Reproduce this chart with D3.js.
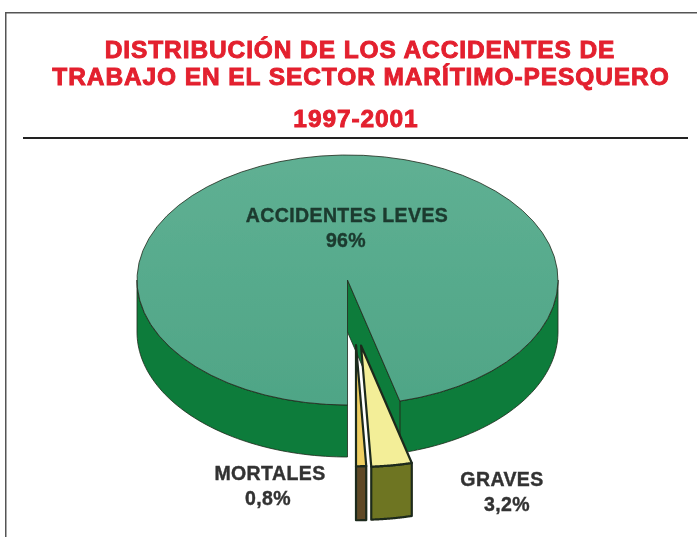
<!DOCTYPE html>
<html>
<head>
<meta charset="utf-8">
<script src="https://cdn.jsdelivr.net/npm/d3@7"></script>
<style>
  html, body { margin: 0; padding: 0; background: #fff; }
  svg { display: block; }
  text { font-family: "Liberation Sans", Arial, sans-serif; font-weight: bold; }
</style>
</head>
<body>
<svg width="697" height="537"></svg>
<script>
const titleLines = ['DISTRIBUCIÓN DE LOS ACCIDENTES DE', 'TRABAJO EN EL SECTOR MARÍTIMO-PESQUERO', '1997-2001']
const categories = ['ACCIDENTES LEVES', 'GRAVES', 'MORTALES']
const shares = [96, 3.2, 0.8]
const shareLabels = ['96%', '3,2%', '0,8%']

const svg = d3.select('svg')

const cx = 347.5
const cy = 280
const rx = 210.5
const ry = 125
const depth = 52

const topColors = ['url(#topFill)', '#f3ee98', '#efcf62']
const sideColors = ['#0a7c3a', '#6e7522', '#5e4a28']
const edge = '#1f2a1c'

// exploded slices: shift in px and shrink of the radius
const shift = [[0, 0], [13.5, 65.5], [8.5, 65]]
const shrink = [1, 0.97, 0.97]
const sideDepth = [depth, 53, 54]

const defs = svg.append('defs')
const grad = defs.append('linearGradient')
  .attr('id', 'topFill')
  .attr('x1', 0).attr('y1', 0).attr('x2', 0).attr('y2', 1)
grad.append('stop').attr('offset', 0).attr('stop-color', '#5fb093')
grad.append('stop').attr('offset', 1).attr('stop-color', '#4fa586')
defs.append('filter').attr('id', 'scan')
  .attr('x', 0).attr('y', 0).attr('width', 1).attr('height', 1)
  .append('feGaussianBlur').attr('stdDeviation', 0.45)

const g = svg.append('g').attr('filter', 'url(#scan)')

// frame and title
g.append('path')
  .attr('d', 'M5.5,537V12.5H697')
  .attr('fill', 'none')
  .attr('stroke', '#555')
  .attr('stroke-width', 2)

g.append('line')
  .attr('x1', 23).attr('x2', 688)
  .attr('y1', 138).attr('y2', 138)
  .attr('stroke', '#222')
  .attr('stroke-width', 2)

g.selectAll('.title').data(titleLines)
  .enter().append('text')
  .attr('class', 'title')
  .attr('x', (d, i) => [360, 361, 356][i])
  .attr('y', (d, i) => [58, 85, 127][i])
  .attr('text-anchor', 'middle')
  .attr('fill', '#e3202e')
  .attr('stroke', '#e3202e')
  .attr('stroke-width', 0.9)
  .attr('font-size', 24.5)
  .attr('letter-spacing', 0.9)
  .text(d => d)

// pie, d3 angles: 0 at twelve o'clock, clockwise. pi is straight down
const arcs = d3.pie().sort(null)
  .startAngle(Math.PI)
  .endAngle(3 * Math.PI)(shares)

const xScale = d3.scaleLinear().domain([-1, 1]).range([cx - rx, cx + rx])
const yScale = d3.scaleLinear().domain([-1, 1]).range([cy - ry, cy + ry])

const px = (a, i) => xScale(Math.sin(a) * shrink[i]) + shift[i][0]
const py = (a, i) => yScale(-Math.cos(a) * shrink[i]) + shift[i][1]

const sampleAngles = (a0, a1) => d3.range(0, 61).map(k => a0 + (a1 - a0) * k / 60)

// front wall between two angles
const wall = (a0, a1, i) => d3.area()
  .x(a => px(a, i))
  .y0(a => py(a, i))
  .y1(a => py(a, i) + sideDepth[i])(sampleAngles(a0, a1))

// top face, apex then rim
const face = (a0, a1, i) => {
  const pts = sampleAngles(a0, a1).map(a => [px(a, i), py(a, i)])
  pts.unshift([xScale(0) + shift[i][0], yScale(0) + shift[i][1]])
  return d3.line()(pts) + 'Z'
}

const leves = arcs[0]
const normal = a => a % (2 * Math.PI)
const cutRight = normal(leves.endAngle)

const pieG = g.append('g')
  .attr('stroke', edge)
  .attr('stroke-linejoin', 'round')

// big slice: rim wall on the left and on the right of the cut
pieG.append('path')
  .attr('d', wall(Math.PI / 2, cutRight, 0))
  .attr('fill', sideColors[0])
  .attr('stroke-width', 0.8)
pieG.append('path')
  .attr('d', wall(Math.PI, 1.5 * Math.PI, 0))
  .attr('fill', sideColors[0])
  .attr('stroke-width', 0.8)

// inner wall of the cut seen through the gap
const apexX = xScale(0)
const apexY = yScale(0)
pieG.append('path')
  .attr('d', d3.line()([
    [apexX, apexY],
    [px(cutRight, 0), py(cutRight, 0)],
    [px(cutRight, 0), py(cutRight, 0) + depth],
    [apexX, apexY + depth]
  ]) + 'Z')
  .attr('fill', sideColors[0])
  .attr('stroke-width', 0.8)

pieG.append('path')
  .attr('d', face(leves.startAngle, leves.endAngle, 0))
  .attr('fill', topColors[0])
  .attr('stroke-width', 0.8)

// exploded slices
arcs.slice(1).forEach((d, n) => {
  const i = n + 1
  const a0 = normal(d.startAngle)
  const a1 = normal(d.endAngle) || Math.PI * 2
  const end = a1 < a0 ? a1 + 2 * Math.PI : a1
  pieG.append('path')
    .attr('d', wall(a0, end, i))
    .attr('fill', sideColors[i])
    .attr('stroke-width', 2.2)
  pieG.append('path')
    .attr('d', face(a0, end, i))
    .attr('fill', topColors[i])
    .attr('stroke-width', 2.2)
})

// labels
const labelPos = [
  { x: 347, y: 222, px: 346, py: 247, fill: '#1b3a2f' },
  { x: 502, y: 486, px: 507, py: 511, fill: '#333' },
  { x: 270, y: 480, px: 268, py: 505, fill: '#333' }
]

categories.forEach((c, i) => {
  g.append('text')
    .attr('x', labelPos[i].x)
    .attr('y', labelPos[i].y)
    .attr('text-anchor', 'middle')
    .attr('font-size', 19.5)
    .attr('letter-spacing', 0.4)
    .attr('stroke', labelPos[i].fill)
    .attr('stroke-width', 0.4)
    .attr('fill', labelPos[i].fill)
    .text(c)
  g.append('text')
    .attr('x', labelPos[i].px)
    .attr('y', labelPos[i].py)
    .attr('text-anchor', 'middle')
    .attr('font-size', 19.5)
    .attr('letter-spacing', 0.4)
    .attr('stroke', labelPos[i].fill)
    .attr('stroke-width', 0.4)
    .attr('fill', labelPos[i].fill)
    .text(shareLabels[i])
})
</script>
</body>
</html>
